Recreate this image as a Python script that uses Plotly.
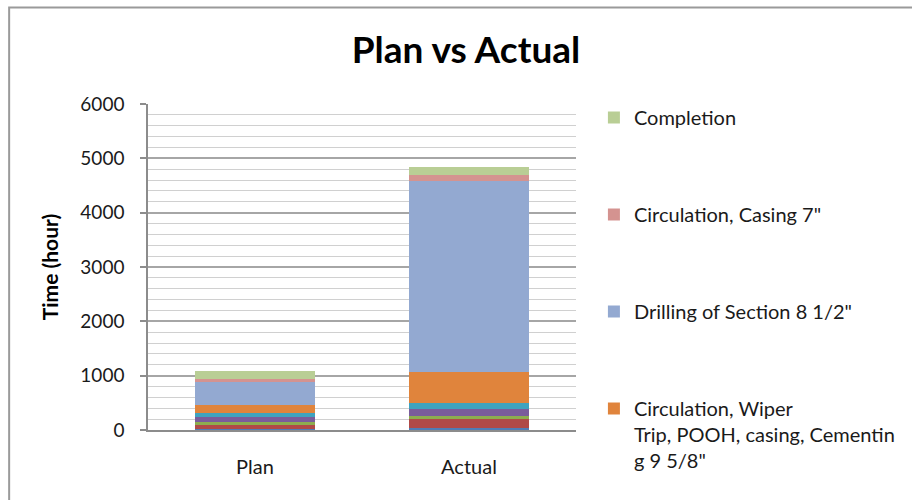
import plotly.graph_objects as go

categories = ["Plan", "Actual"]

series_names = [
    "Rig Move / Rig Up",
    "Drilling of Section 17 1/2\"",
    "Casing 13 3/8\"",
    "Drilling of Section 12 1/4\"",
    "Circulation, Casing 13 3/8\"",
    "Circulation, Wiper<br>Trip, POOH, casing, Cementin<br>g 9 5/8\"",
    "Drilling of Section 8 1/2\"",
    "Circulation, Casing 7\"",
    "Completion",
]
plan_values = [10, 85, 50, 100, 60, 150, 430, 50, 145]
actual_values = [30, 165, 67, 123, 104, 583, 3510, 110, 140]
show_in_legend = [False, False, False, False, False, True, True, True, True]
colors = ["#4F7DB5", "#B04A47", "#8DAD4F", "#7A5C9B", "#3FA3BF",
          "#E0843C", "#93A9D1", "#D49390", "#B9CE95"]

FONT = "Lato, 'Open Sans', sans-serif"

fig = go.Figure()
n = len(series_names)
for i, name in enumerate(series_names):
    fig.add_trace(go.Bar(
        x=categories,
        y=[plan_values[i], actual_values[i]],
        name=name,
        marker=dict(color=colors[i], line=dict(width=0)),
        showlegend=show_in_legend[i],
        legendgroup="g%d" % i,
        legendrank=n - i,
    ))

ml, mr, mt, mb = 148, 334, 104, 70
pw, ph = 912 - ml - mr, 500 - mt - mb

fig.update_layout(
    width=912, height=500,
    barmode="stack",
    bargap=0.44,
    margin=dict(l=ml, r=mr, t=mt, b=mb),
    paper_bgcolor="white",
    plot_bgcolor="white",
    font=dict(family=FONT, size=20, color="#1a1a1a"),
    title=dict(text="<b>Plan vs Actual</b>", x=466 / 912, xref="container",
               xanchor="center", y=1 - 50 / 500, yref="container", yanchor="middle",
               font=dict(family=FONT, size=37, color="black")),
    legend=dict(
        x=(596 - ml) / pw, xanchor="left",
        y=(430 - 98) / ph, yanchor="top",
        traceorder="grouped",
        tracegroupgap=68,
        valign="top",
        maxheight=1000,
        font=dict(family=FONT, size=20, color="#1a1a1a"),
        itemwidth=30,
        bgcolor="rgba(0,0,0,0)",
    ),
    xaxis=dict(
        showgrid=False, showline=True, linecolor="#8c8c8c", linewidth=1.5,
        ticks="", ticklabelstandoff=18,
        tickfont=dict(family=FONT, size=20, color="#1a1a1a"),
    ),
    yaxis=dict(
        range=[0, 6000], dtick=1000, tick0=0,
        showline=True, linecolor="#8c8c8c", linewidth=1.5,
        ticks="outside", ticklen=6, tickcolor="#8c8c8c", tickwidth=1.5,
        ticklabelstandoff=12,
        gridcolor="#a6a6a6", gridwidth=1.5,
        minor=dict(dtick=200, showgrid=True, gridcolor="#d0d0d0", gridwidth=1, ticks=""),
        tickfont=dict(family=FONT, size=19, color="#1a1a1a"),
        title=dict(text="<b>Time (hour)</b>", standoff=16,
                   font=dict(family=FONT, size=21, color="black")),
        zeroline=False,
    ),
    shapes=[dict(
        type="rect", xref="paper", yref="paper",
        x0=(8.5 - ml) / pw, x1=(930 - ml) / pw,
        y0=(430 - 520) / ph, y1=(430 - 7.5) / ph,
        line=dict(color="#9a9a9a", width=2), fillcolor="rgba(0,0,0,0)", layer="below",
    )],
)

fig.write_html("out.html")
